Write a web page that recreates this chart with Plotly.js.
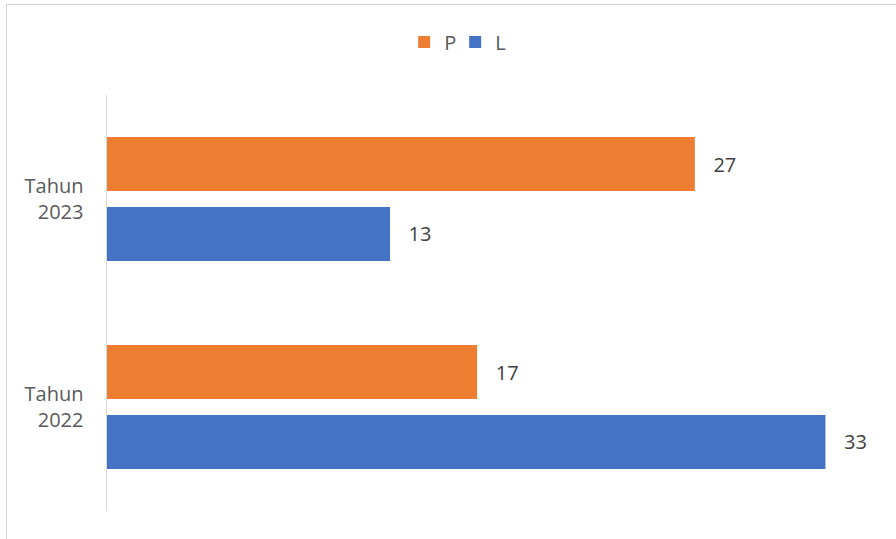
<!DOCTYPE html>
<html>
<head>
<meta charset="utf-8">
<script src="https://cdn.plot.ly/plotly-3.0.1.min.js"></script>
<style>
  html, body { margin: 0; padding: 0; background: #ffffff; }
  #wrap { position: relative; width: 896px; height: 539px; overflow: hidden; }
  #frame { position: absolute; left: 6px; top: 4px; width: 1000px; height: 1000px; border: 1px solid #d4d4d4; box-sizing: border-box; pointer-events: none; }
  #chart { position: absolute; left: 0; top: 0; width: 896px; height: 539px; }
</style>
</head>
<body>
<div id="wrap">
  <div id="frame"></div>
  <div id="chart"></div>
</div>
<script>
const categories = ["Tahun<br>2023", "Tahun<br>2022"];
const seriesNames = ["P", "L"];
const valuesP = [27, 17];
const valuesL = [13, 33];

const colors = { P: "#ED7D31", L: "#4472C4" };
const labelFont = { family: "Open Sans, sans-serif", size: 20, color: "#404040" };

function barTrace(name, values) {
  return {
    type: "bar",
    orientation: "h",
    name: name,
    y: categories,
    x: values,
    marker: { color: colors[name], line: { width: 0 } },
    text: values.map(String),
    texttemplate: "\u00a0\u00a0\u00a0%{text}",
    textposition: "outside",
    textfont: labelFont,
    cliponaxis: false,
    hoverinfo: "x+name"
  };
}

const data = [barTrace(seriesNames[0], valuesP), barTrace(seriesNames[1], valuesL)];

const layout = {
  width: 896,
  height: 539,
  paper_bgcolor: "rgba(0,0,0,0)",
  plot_bgcolor: "rgba(0,0,0,0)",
  margin: { l: 107, r: 27, t: 95, b: 28, pad: 0, autoexpand: false },
  barmode: "group",
  bargap: 0.327,
  bargroupgap: 0.229,
  font: { family: "Open Sans, sans-serif", size: 20, color: "#595959" },
  showlegend: true,
  legend: {
    orientation: "h",
    xref: "container",
    x: 0.508,
    xanchor: "center",
    yref: "container",
    y: 0.922,
    yanchor: "middle",
    traceorder: "normal",
    font: { family: "Open Sans, sans-serif", size: 20, color: "#595959" },
    itemwidth: 30,
    entrywidth: 6
  },
  xaxis: {
    type: "linear",
    autorange: false,
    range: [0, 35],
    fixedrange: true,
    showticklabels: false,
    showgrid: false,
    zeroline: false,
    showline: false,
    ticks: ""
  },
  yaxis: {
    type: "category",
    autorange: "reversed",
    showline: true,
    linecolor: "#d9d9d9",
    linewidth: 1.5,
    showgrid: false,
    zeroline: false,
    ticks: "",
    ticklabelstandoff: 18,
    tickfont: { family: "Open Sans, sans-serif", size: 20, color: "#595959" }
  }
};

Plotly.newPlot("chart", data, layout, { displayModeBar: false, staticPlot: true });
</script>
</body>
</html>
